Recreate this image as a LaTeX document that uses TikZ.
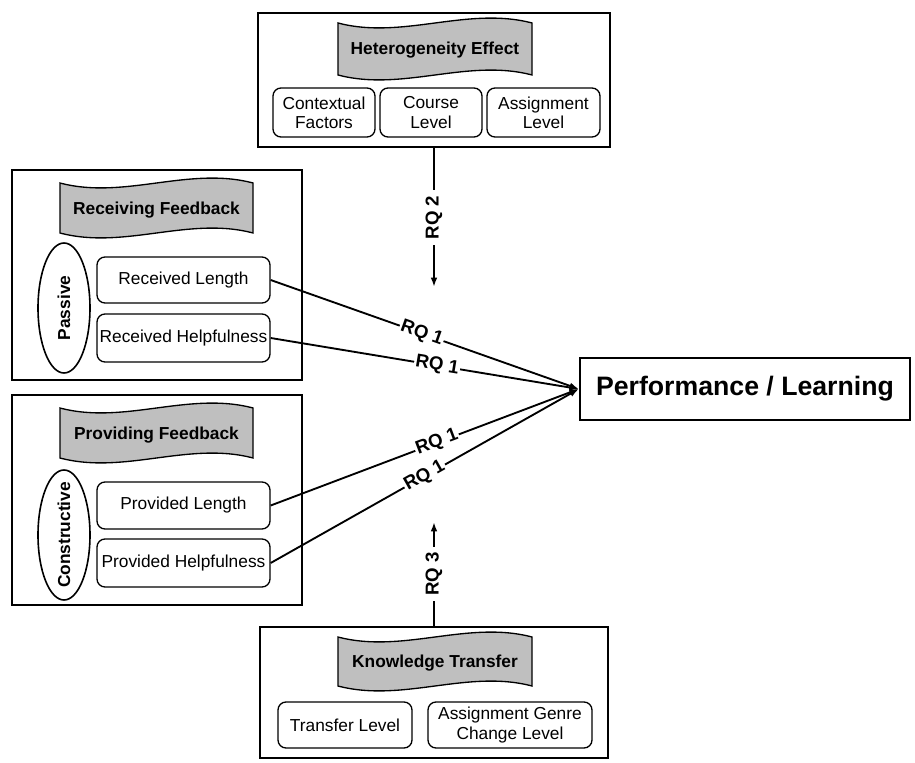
\documentclass[tikz,border=0pt]{standalone}
\usepackage{fontspec}
\setmainfont{Liberation Sans}
\usetikzlibrary{arrows.meta,shapes.geometric}
\newcommand\bannerpath[4]{%
  \pgfmathsetmacro\bA{#1+(#3-#1)/3}%
  \pgfmathsetmacro\bB{#1+2*(#3-#1)/3}%
  \draw[bannerfill] (#1,#2) .. controls (\bA,#2+17) and (\bB,#2-17) .. (#3,#2) -- (#3,#4) .. controls (\bB,#4-17) and (\bA,#4+17) .. (#1,#4) -- cycle;%
}
\begin{document}
\begin{tikzpicture}[x=0.75pt,y=-0.75pt,
  sz/.style 2 args={minimum width=#1*0.75pt,minimum height=#2*0.75pt},
  outer/.style={draw,line width=1.8pt,inner sep=0pt},
  sub/.style={draw,line width=1pt,rounded corners=6pt,inner sep=1pt,align=center,font=\fontsize{13}{14.5}\selectfont},
  bannertext/.style={font=\bfseries\fontsize{13}{15}\selectfont,inner sep=0pt},
  bannerfill/.style={draw,line width=1pt,fill=gray!50},
  oval/.style={draw,ellipse,line width=1.2pt,inner sep=0pt,font=\bfseries\fontsize{13}{15}\selectfont},
  conn/.style={line width=1.4pt},
  arr/.style={conn,-{Latex[length=7pt,width=5pt]}},
  rq/.style={fill=white,inner sep=1pt,font=\bfseries\fontsize{14}{15}\selectfont},
]
\useasboundingbox (0,0) rectangle (915,763);

% Heterogeneity
\node[outer,sz={352}{134}] (hetbox) at (434,80) {};
\bannerpath{338}{23}{532}{75}
\node[bannertext] (het) at (435,50) {Heterogeneity Effect};
\node[sub,sz={102}{49}] (ctx) at (324,112.5) {Contextual\\Factors};
\node[sub,sz={102}{49}] (course) at (431,112.5) {Course\\Level};
\node[sub,sz={113}{49}] (asg) at (543.5,112.5) {Assignment\\Level};

% Receiving
\node[outer,sz={290}{210}] (recbox) at (157,275) {};
\bannerpath{60}{183}{253}{233}
\node[bannertext] (rec) at (156.5,210) {Receiving Feedback};
\node[oval,sz={52}{130}] (passive) at (64,308) {\rotatebox{90}{\makebox[0pt]{Passive}}};
\node[sub,sz={173}{46}] (rlen) at (183.5,280) {Received Length};
\node[sub,sz={173}{48}] (rhelp) at (183.5,338) {Received Helpfulness};

% Providing
\node[outer,sz={290}{210}] (provbox) at (157,500) {};
\bannerpath{60}{408}{253}{458}
\node[bannertext] (prov) at (156.5,435) {Providing Feedback};
\node[oval,sz={52}{130}] (constr) at (64,535) {\rotatebox{90}{\makebox[0pt]{Constructive}}};
\node[sub,sz={173}{47}] (plen) at (183.5,505.5) {Provided Length};
\node[sub,sz={173}{48}] (phelp) at (183.5,563) {Provided Helpfulness};

% Knowledge transfer
\node[outer,sz={348}{131}] (ktbox) at (434,692.5) {};
\bannerpath{338}{637}{532}{686}
\node[bannertext] (kt) at (435,663) {Knowledge Transfer};
\node[sub,sz={134}{46}] (tl) at (345,725) {Transfer Level};
\node[sub,sz={164}{46}] (agc) at (510,725) {Assignment Genre\\Change Level};

% Performance
\node[outer,sz={330}{62},font=\bfseries\fontsize{20}{24}\selectfont] (perf) at (745,389) {Performance / Learning};

% Connectors
\coordinate (rq2end) at (434,287);
\coordinate (rq3end) at (434,522);
\draw[arr] (hetbox.south) -- node[rq,rotate=90,inner sep=4pt] {RQ 2} (rq2end);
\draw[arr] (ktbox.north) -- node[rq,rotate=90,inner sep=4pt] {RQ 3} (rq3end);
\draw[arr] (rlen.east) -- node[rq,sloped,pos=0.49] {RQ 1} (perf.west);
\draw[arr] (rhelp.east) -- node[rq,sloped,pos=0.54] {RQ 1} (perf.west);
\draw[arr] (plen.east) -- node[rq,sloped,pos=0.54] {RQ 1} (perf.west);
\draw[arr] (phelp.east) -- node[rq,sloped,pos=0.50] {RQ 1} (perf.west);
\end{tikzpicture}
\end{document}
